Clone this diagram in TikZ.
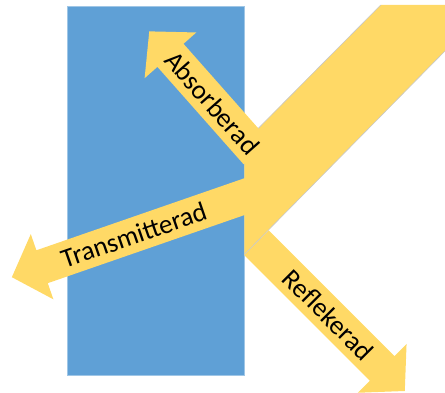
\documentclass[tikz,border=0pt]{standalone}
\usepackage{fontspec}
\setmainfont{Carlito}
\usetikzlibrary{calc}
\definecolor{beamcol}{HTML}{FFD966}
\definecolor{slabcol}{HTML}{5FA0D6}
\definecolor{edgecol}{HTML}{C8C8C8}
\newcommand\rayarrow[4]{% base, angle, total length, back extension
  \begin{scope}[shift={(#1)},rotate=#2]
    \fill[beamcol] (-#4,-17.4) -- ({#3-32},-17.4) -- ({#3-32},-34.5) -- (#3,0)
      -- ({#3-32},34.5) -- ({#3-32},17.4) -- (-#4,17.4) -- cycle;
  \end{scope}}
\begin{document}
\begin{tikzpicture}[x=1pt,y=1pt,
  lbl/.style={font=\fontsize{27}{27}\selectfont, inner sep=0pt, text=black},
  edgeline/.style={draw=edgecol, line width=0.6pt}]
\useasboundingbox (0,0) rectangle (445,392);
\clip (0,0) rectangle (445,392);
% slab
\fill[slabcol] (67.7,17) rectangle (244.3,385.3);
\draw[draw=slabcol!60!white, line width=0.5pt] (67.7,17) rectangle (244.3,385.3);
% incoming beam
\fill[beamcol] (380.7,387) -- (445,387) -- (445,341) -- (244.3,137.5) -- (244.3,249.6) -- cycle;
% arrows
\coordinate (abase) at (251.3,245.3);
\coordinate (tbase) at (244.3,195.3);
\coordinate (rbase) at (256.3,149.5);
\rayarrow{abase}{131.5}{154}{8}
\rayarrow{tbase}{199.1}{246}{8}
\rayarrow{rbase}{-45}{210}{0}
% beam outlines
\draw[edgeline] (380.7,387) -- (258.3,263.7);
\draw[edgeline] (445,341) -- (244.3,137.5);
% labels
\node[lbl, rotate=-48.5] (alab) at ($(abase)+(131.5:58.7)$) {Absorberad};
\node[lbl, rotate=19.1] (tlab) at ($(tbase)+(199.1:117)$) {Transmitterad};
\node[lbl, rotate=-45] (rlab) at ($(rbase)+(-45:102)$) {Reflekerad};
\end{tikzpicture}
\end{document}
